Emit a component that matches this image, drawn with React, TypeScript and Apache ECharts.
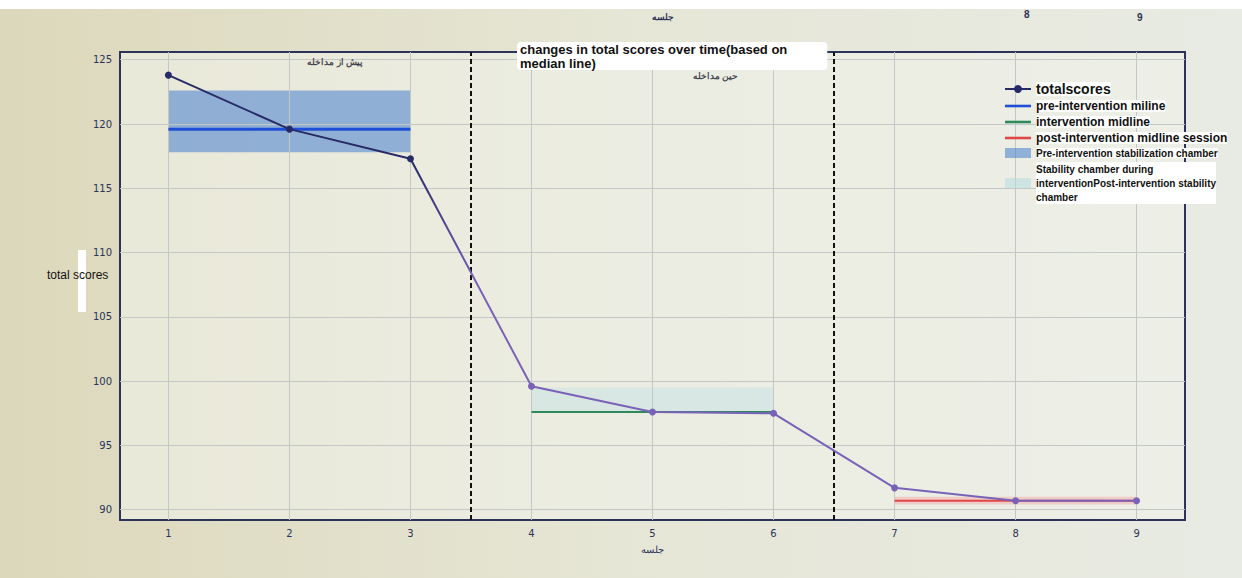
import React, { useEffect, useRef } from "react";
import * as echarts from "echarts";

// ---- data ----
const sessions = [1, 2, 3, 4, 5, 6, 7, 8, 9];
const totalScores = [123.8, 119.6, 117.3, 99.6, 97.6, 97.5, 91.7, 90.7, 90.7];
const xTicks = [1, 2, 3, 4, 5, 6, 7, 8, 9];
const yTicks = [90, 95, 100, 105, 110, 115, 120, 125];
const phaseBoundaries = [3.5, 6.5];

const preRange = [1, 3];
const preMedian = 119.6;
const preBand = [117.8, 122.6];

const intRange = [4, 6];
const intMedian = 97.6;
const intBand = [97.6, 99.5];

const postRange = [7, 9];
const postMedian = 90.7;
const postBand = [90.4, 91.0];

const phaseLabels = ["پیش از مداخله", "حین مداخله"];
const phaseLabelPos = [
  [2.38, 124.8],
  [5.52, 123.75],
];

const FONT = "Liberation Sans, Arial, sans-serif";
const AXIS_COLOR = "#2c3358";
const GRID_COLOR = "#c3c8c6";
const NAVY = "#262a66";
const PURPLE = "#7a62b8";
const BLUE = "#1f4fd6";
const GREEN = "#2e8a5a";
const RED = "#e04848";
const LINE_ICON = "path://M0,0H30V3H0Z";

export default function App() {
  const ref = useRef<HTMLDivElement>(null);

  useEffect(() => {
    document.body.style.margin = "0";
    const chart = echarts.init(ref.current!, undefined, { renderer: "svg" });

    const scoreData = sessions.map((s, i) => [s, totalScores[i]]);

    const gridLines = [
      ...xTicks.map((v) => ({
        xAxis: v,
        label: { show: true, position: "start", formatter: String(v), distance: 8 },
      })),
      ...yTicks.map((v) => ({
        yAxis: v,
        label: { show: true, position: "start", formatter: String(v), distance: 8 },
      })),
    ];

    const option: any = {
      animation: false,
      backgroundColor: {
        type: "linear",
        x: 0, y: 0, x2: 1, y2: 0,
        colorStops: [
          { offset: 0, color: "#dcd8bb" },
          { offset: 0.5, color: "#e6e6d6" },
          { offset: 1, color: "#e8ebe3" },
        ],
      },
      title: {
        text: "changes in total scores over time(based on\nmedian line)",
        left: 517,
        top: 42,
        padding: [0, 40, 0, 3],
        backgroundColor: "#ffffff",
        borderRadius: 4,
        textStyle: {
          fontFamily: FONT,
          fontSize: 13,
          fontWeight: "bold",
          color: "#111",
          lineHeight: 14,
        },
      },
      grid: {
        left: 120,
        right: 57,
        top: 52,
        bottom: 58,
        show: true,
        backgroundColor: "rgba(240,242,234,0.6)",
        borderColor: AXIS_COLOR,
        borderWidth: 2,
      },
      legend: {
        orient: "vertical",
        left: 1002,
        top: 80,
        itemGap: 4,
        itemWidth: 26,
        itemHeight: 10,
        padding: 2,
        textStyle: {
          fontFamily: FONT,
          color: "#111",
          backgroundColor: "#ffffff",
        },
        data: [
          {
            name: "totalscores",
            itemStyle: { color: NAVY },
            lineStyle: { color: NAVY, width: 2 },
            textStyle: { fontSize: 14, fontWeight: "bold" },
          },
          { name: "pre-intervention miline", icon: LINE_ICON, itemStyle: { color: BLUE }, textStyle: { fontSize: 12, fontWeight: "bold" } },
          { name: "intervention midline", icon: LINE_ICON, itemStyle: { color: GREEN }, textStyle: { fontSize: 12, fontWeight: "bold" } },
          { name: "post-intervention midline session", icon: LINE_ICON, itemStyle: { color: RED }, textStyle: { fontSize: 12, fontWeight: "bold" } },
          { name: "Pre-intervention stabilization chamber", icon: "rect", textStyle: { fontSize: 10, fontWeight: "bold" } },
          {
            name: "Stability chamber during\ninterventionPost-intervention stability\nchamber",
            icon: "rect",
            textStyle: { fontSize: 10, fontWeight: "bold", lineHeight: 14 },
          },
        ],
      },
      xAxis: {
        type: "value",
        min: 0.6,
        max: 9.4,
        name: "جلسه",
        nameLocation: "middle",
        nameGap: 24,
        nameTextStyle: { fontFamily: FONT, fontSize: 10, color: AXIS_COLOR },
        axisLine: { show: true, lineStyle: { color: AXIS_COLOR, width: 2 } },
        axisTick: { show: false },
        axisLabel: { show: false },
        splitLine: { show: false },
      },
      yAxis: {
        type: "value",
        min: 89.2,
        max: 125.6,
        axisLine: { show: true, lineStyle: { color: AXIS_COLOR, width: 2 } },
        axisTick: { show: false },
        axisLabel: { show: false },
        splitLine: { show: false },
      },
      series: [
        {
          name: "totalscores",
          type: "line",
          data: scoreData,
          symbol: "circle",
          symbolSize: 7,
          z: 5,
          lineStyle: {
            width: 2,
            color: {
              type: "linear",
              x: 0, y: 0, x2: 1, y2: 0,
              colorStops: [
                { offset: 0, color: NAVY },
                { offset: 0.25, color: NAVY },
                { offset: 0.32, color: PURPLE },
                { offset: 1, color: PURPLE },
              ],
            },
          },
          itemStyle: {
            color: (p: any) => (p.dataIndex < 3 ? NAVY : PURPLE),
          },
          markLine: {
            silent: true,
            symbol: "none",
            label: { show: false },
            lineStyle: { color: "#111", type: [5, 3], width: 2 },
            data: phaseBoundaries.map((v) => ({ xAxis: v })),
          },
        },
        {
          name: "pre-intervention miline",
          type: "line",
          data: preRange.map((x) => [x, preMedian]),
          symbol: "none",
          lineStyle: { color: BLUE, width: 3 },
          itemStyle: { color: BLUE },
          z: 4,
          markLine: {
            silent: true,
            symbol: "none",
            z: 1,
            lineStyle: { color: GRID_COLOR, type: "solid", width: 1 },
            label: {
              color: AXIS_COLOR,
              fontFamily: "DejaVu Sans",
              fontSize: 10,
            },
            data: gridLines,
          },
          markArea: {
            silent: true,
            itemStyle: { color: "rgba(70,125,205,0.55)" },
            data: [[
              { xAxis: preRange[0], yAxis: preBand[0] },
              { xAxis: preRange[1], yAxis: preBand[1] },
            ]],
          },
        },
        {
          name: "intervention midline",
          type: "line",
          data: intRange.map((x) => [x, intMedian]),
          symbol: "none",
          lineStyle: { color: GREEN, width: 2 },
          itemStyle: { color: GREEN },
          z: 4,
          markArea: {
            silent: true,
            itemStyle: { color: "rgba(195,225,228,0.5)" },
            data: [[
              { xAxis: intRange[0], yAxis: intBand[0] },
              { xAxis: intRange[1], yAxis: intBand[1] },
            ]],
          },
        },
        {
          name: "post-intervention midline session",
          type: "line",
          data: postRange.map((x) => [x, postMedian]),
          symbol: "none",
          lineStyle: { color: RED, width: 2 },
          itemStyle: { color: RED },
          z: 4,
          markArea: {
            silent: true,
            itemStyle: { color: "rgba(240,170,170,0.5)" },
            data: [[
              { xAxis: postRange[0], yAxis: postBand[0] },
              { xAxis: postRange[1], yAxis: postBand[1] },
            ]],
          },
        },
        {
          name: "Pre-intervention stabilization chamber",
          type: "line",
          data: [],
          itemStyle: { color: "rgba(70,125,205,0.55)" },
        },
        {
          name: "Stability chamber during\ninterventionPost-intervention stability\nchamber",
          type: "line",
          data: [],
          itemStyle: { color: "rgba(180,220,225,0.55)" },
        },
        {
          name: "phase labels",
          type: "scatter",
          data: phaseLabelPos.map((p, i) => ({ value: p, label: { formatter: phaseLabels[i] } })),
          symbolSize: 1,
          itemStyle: { color: "rgba(0,0,0,0)" },
          label: {
            show: true,
            position: "inside",
            fontFamily: FONT,
            fontSize: 9,
            fontWeight: "bold",
            color: "#1a1a30",
          },
        },
      ],
      graphic: [
        { type: "rect", left: 0, top: 0, shape: { width: 1242, height: 9 }, style: { fill: "#ffffff" } },
        { type: "rect", left: 78, top: 250, shape: { width: 8, height: 62 }, style: { fill: "#ffffff" } },
        { type: "text", left: 47, top: 269, style: { text: "total scores", fontSize: 12, fill: "#111", fontFamily: FONT } },
        { type: "text", left: 652, top: 12, style: { text: "جلسه", fontSize: 9, fontWeight: "bold", fill: AXIS_COLOR, fontFamily: FONT } },
        { type: "text", left: 1024, top: 9, style: { text: "8", fontSize: 10, fontWeight: "bold", fill: AXIS_COLOR, fontFamily: FONT } },
        { type: "text", left: 1137, top: 12, style: { text: "9", fontSize: 10, fontWeight: "bold", fill: AXIS_COLOR, fontFamily: FONT } },
      ],
    };

    chart.setOption(option);
    return () => chart.dispose();
  }, []);

  return <div ref={ref} style={{ width: 1242, height: 578 }} />;
}
